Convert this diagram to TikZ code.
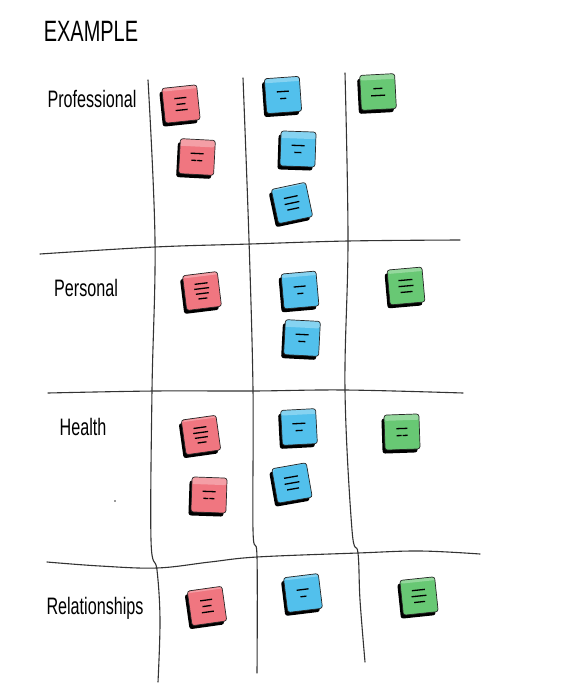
\documentclass[tikz,border=0pt]{standalone}
\usepackage{fontspec}
\setmainfont{Liberation Sans}
\usepackage{xcolor}
\usepackage{tikz}
\usetikzlibrary{shadows}
\definecolor{notered}{RGB}{240,118,128}
\definecolor{noteblue}{RGB}{82,192,236}
\definecolor{notegreen}{RGB}{104,200,116}
\newcommand{\hand}[1]{\scalebox{0.95}[1.4]{#1}}
\newcommand{\scr}[1]{\rule{#1}{1.3pt}}
\tikzset{
  gridline/.style={draw=black!80, line width=1.1pt, line cap=round},
  lbl/.style={font=\fontsize{17}{20}\selectfont, inner sep=0pt},
  sticky/.style={rectangle, rounded corners=2.5pt, minimum width=35pt, minimum height=35pt, draw=black!85, line width=0.7pt, inner sep=0pt, align=center, font=\fontsize{5}{5}\selectfont,
    general shadow={fill=black, shadow xshift=-2.5pt, shadow yshift=-3.5pt},
    path picture={\fill[white, opacity=.3] ([yshift=-7pt]path picture bounding box.north west) rectangle (path picture bounding box.north east);}},
  rednote/.style={sticky, fill=notered},
  bluenote/.style={sticky, fill=noteblue},
  greennote/.style={sticky, fill=notegreen},
}

\begin{document}
\begin{tikzpicture}[x=1pt, y=-1pt]
\useasboundingbox (0,0) rectangle (574,700);
% grid
\draw[gridline] plot[smooth, tension=.6] coordinates {(148,80) (155,240) (152,390) (151,540) (157,570) (160,620) (158,682)};
\draw[gridline] plot[smooth, tension=.6] coordinates {(243,78) (249,240) (253,390) (253,530) (257,557) (257,673)};
\draw[gridline] plot[smooth, tension=.6] coordinates {(345,73) (348,240) (345,390) (352,530) (358,553) (360,600) (365,662)};
\draw[gridline] plot[smooth, tension=.6] coordinates {(40,254) (155,247) (250,244) (348,241) (460,240)};
\draw[gridline] plot[smooth, tension=.6] coordinates {(48,393) (155,391) (253,391) (345,390) (463,393)};
\draw[gridline] plot[smooth, tension=.6] coordinates {(47,562) (100,566) (157,568) (210,562) (257,557) (358,553) (420,551) (480,554)};
\fill[black!80] (115,501) circle (0.9pt);

% labels
\node[lbl, font=\fontsize{21}{24}\selectfont] (title) at (91,31) {\hand{EXAMPLE}};
\node[lbl] (prof) at (92,99) {\hand{Professional}};
\node[lbl] (pers) at (86,288) {\hand{Personal}};
\node[lbl] (heal) at (83,427) {\hand{Health}};
\node[lbl] (rela) at (95,608) {\hand{Relationships}};

% professional
\node[rednote, rotate=6] (pr1) at (181,104) {\scr{12pt}\\[1pt]\scr{9pt}\\[1pt]\scr{12pt}};
\node[rednote, rotate=-3] (pr2) at (197,157) {\scr{13pt}\\[2pt]\scr{5pt}\,\scr{5pt}};
\node[bluenote, rotate=4] (pb1) at (283,95) {\scr{12pt}\\[2pt]\scr{6pt}};
\node[bluenote, rotate=-2] (pb2) at (298,149) {\scr{13pt}\\[2pt]\scr{7pt}};
\node[bluenote, rotate=12] (pb3) at (292,203) {\scr{14pt}\\[1pt]\scr{15pt}\\[1pt]\scr{12pt}};
\node[greennote, rotate=3] (pg1) at (378,92) {\scr{9pt}\\[2pt]\scr{14pt}};
% personal
\node[rednote, rotate=7] (er1) at (202,291) {\scr{13pt}\\[0pt]\scr{15pt}\\[0pt]\scr{13pt}\\[0pt]\scr{9pt}};
\node[bluenote, rotate=5] (eb1) at (300,290) {\scr{12pt}\\[2pt]\scr{6pt}};
\node[bluenote, rotate=-3] (eb2) at (302,338) {\scr{13pt}\\[2pt]\scr{7pt}};
\node[greennote, rotate=5] (eg1) at (406,286) {\scr{14pt}\\[1pt]\scr{15pt}\\[1pt]\scr{12pt}};
% health
\node[rednote, rotate=8] (hr1) at (201,435) {\scr{13pt}\\[0pt]\scr{15pt}\\[0pt]\scr{13pt}\\[0pt]\scr{9pt}};
\node[rednote, rotate=-2] (hr2) at (209,495) {\scr{13pt}\\[2pt]\scr{5pt}\,\scr{5pt}};
\node[bluenote, rotate=3] (hb1) at (299,427) {\scr{13pt}\\[2pt]\scr{7pt}};
\node[bluenote, rotate=10] (hb2) at (292,483) {\scr{14pt}\\[1pt]\scr{15pt}\\[1pt]\scr{12pt}};
\node[greennote, rotate=2] (hg1) at (402,432) {\scr{11pt}\\[2pt]\scr{5pt}\,\scr{5pt}};
% relationships
\node[rednote, rotate=8] (rr1) at (207,606) {\scr{12pt}\\[1pt]\scr{9pt}\\[1pt]\scr{12pt}};
\node[bluenote, rotate=7] (rb1) at (303,593) {\scr{12pt}\\[2pt]\scr{6pt}};
\node[greennote, rotate=6] (rg1) at (419,596) {\scr{13pt}\\[1pt]\scr{15pt}\\[1pt]\scr{11pt}};
\end{tikzpicture}
\end{document}
